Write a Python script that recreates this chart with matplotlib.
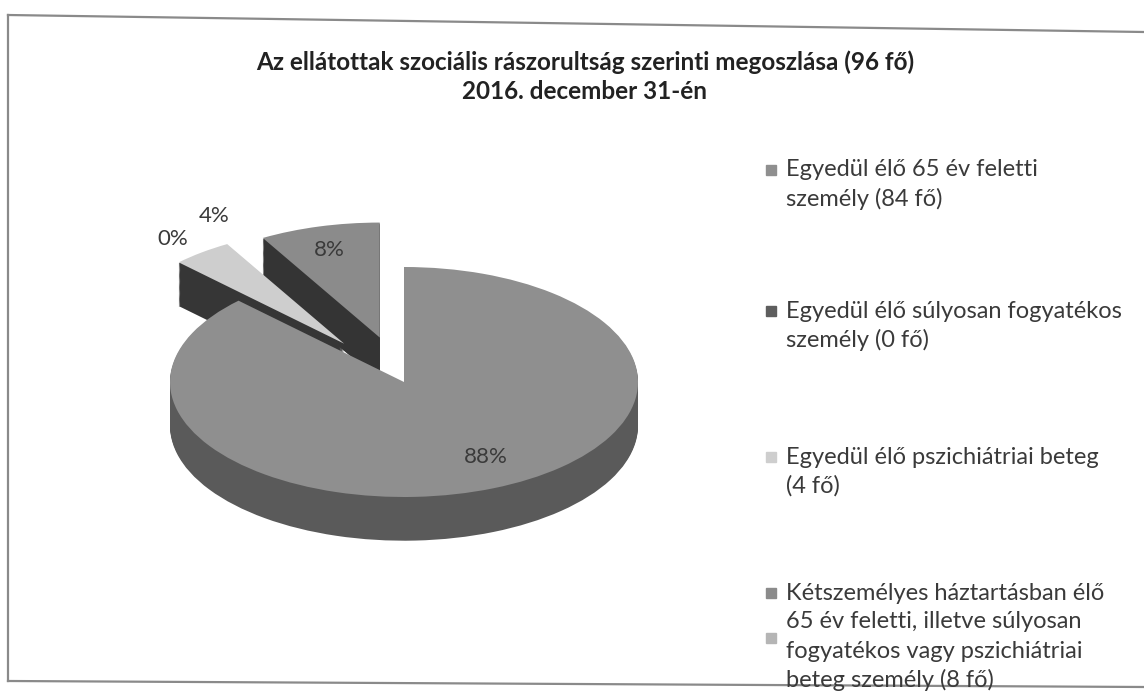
import matplotlib.pyplot as plt
from matplotlib.patches import Rectangle

plt.rcParams["font.family"] = ["Lato", "DejaVu Sans"]

title = "Az ellátottak szociális rászorultság szerinti megoszlása (96 fő)\n2016. december 31-én"
labels = [
    "Egyedül élő 65 év feletti\nszemély (84 fő)",
    "Egyedül élő súlyosan fogyatékos\nszemély (0 fő)",
    "Egyedül élő pszichiátriai beteg\n(4 fő)",
    "Kétszemélyes háztartásban élő\n65 év feletti, illetve súlyosan\nfogyatékos vagy pszichiátriai\nbeteg személy (8 fő)",
]
counts = [84, 0, 4, 8]

top_colors = ["#8f8f8f", "#5e5e5e", "#cecece", "#8b8b8b"]
side_colors = ["#5a5a5a", "#2f2f2f", "#363636", "#343434"]
explode = [0, 0.42, 0.42, 0.4]
# where the percent labels sit (pie units)
label_pos = [(0.35, -0.65), (-0.99, 1.24), (-0.81, 1.44), (-0.32, 1.15)]

W, H = 1144, 695
fig = plt.figure(figsize=(W / 100, H / 100), dpi=100)

# background axes in pixel units: frame + legend
bg = fig.add_axes([0, 0, 1, 1])
bg.set_xlim(0, W)
bg.set_ylim(H, 0)
bg.axis("off")
frame_kw = dict(color="#8a8a8a", lw=1.6)
bg.plot([8, W], [15, 32], **frame_kw)
bg.plot([8, 8], [15, 681], **frame_kw)
bg.plot([8, W], [681, 687], **frame_kw)

# pie axes, 1 pie unit = 234 px across, 115 px down (flattened look)
cx, cy, rx, ry = 404, 382, 234, 115
ax = fig.add_axes([0, 0, 1, 1])
depth = 0.38
nlayer = 40


def draw(mask):
    for k in range(nlayer, -1, -1):
        cols = side_colors if k > 0 else top_colors
        cols = [c if m else "none" for c, m in zip(cols, mask)]
        ax.pie(counts, explode=explode, colors=cols, startangle=90,
               counterclock=False, center=(0, -depth * k / nlayer),
               wedgeprops=dict(linewidth=0))


# back (exploded) slices first, then the big front slice
draw([False, True, True, True])
draw([True, False, False, False])

ax.set_aspect("auto")
ax.set_xlim(-cx / rx, (W - cx) / rx)
ax.set_ylim(-(H - cy) / ry, cy / ry)
ax.axis("off")

total = sum(counts)
for c, (x, y) in zip(counts, label_pos):
    ax.text(x, y, f"{c / total:.0%}", ha="center", va="center",
            fontsize=16, color="#3a3a3a")

fig.text(585 / W, 1 - 77 / H, title, ha="center", va="center",
         fontsize=17.5, fontweight="bold", color="#222222", linespacing=1.3)

# legend drawn by hand (entries are spaced unevenly in the original)
first_line = [170, 311, 457, 593]
line_h = 29
for lab, col, y0 in zip(labels, top_colors, first_line):
    bg.add_patch(Rectangle((766, y0 - 5), 10, 10, color=col))
    for i, line in enumerate(lab.split("\n")):
        bg.text(786, y0 + i * line_h, line, ha="left", va="center",
                fontsize=17, color="#3a3a3a")
bg.add_patch(Rectangle((766, 633), 10, 10, color="#b5b5b5"))

plt.savefig("out.png", dpi=100)
